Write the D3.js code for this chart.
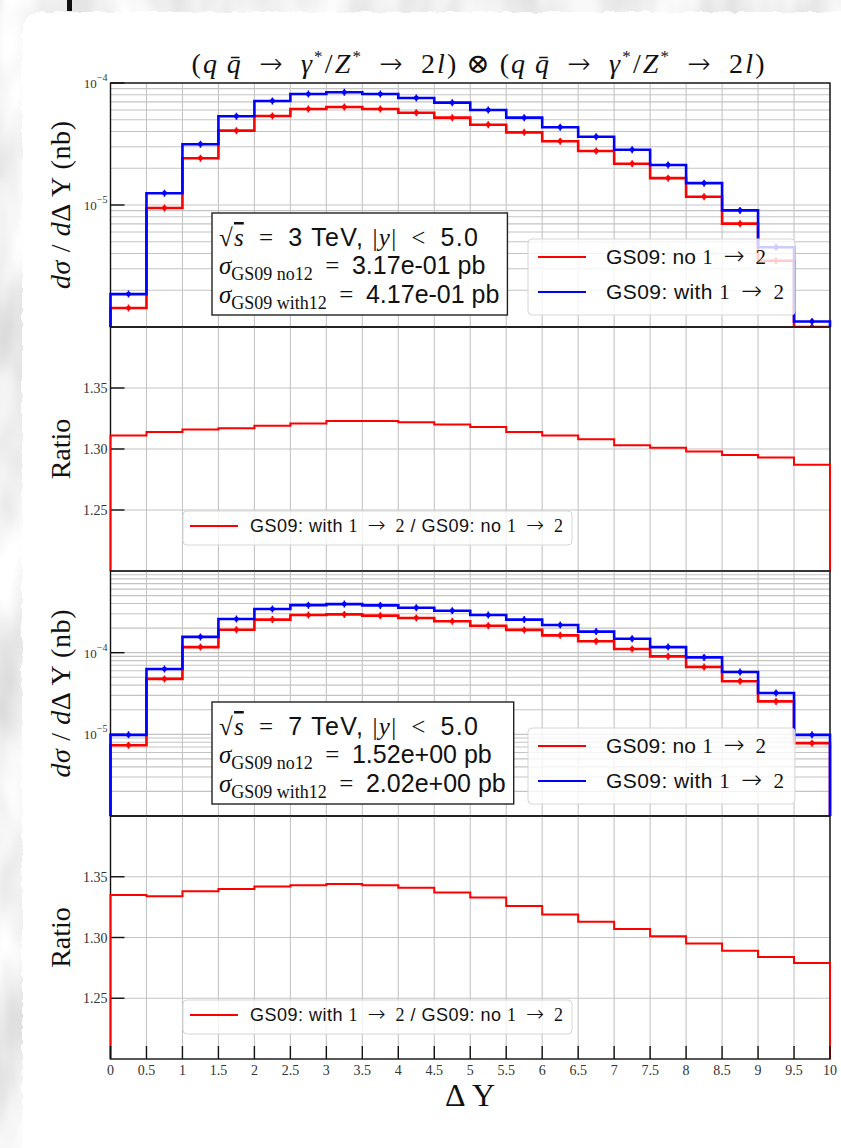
<!DOCTYPE html>
<html>
<head>
<meta charset="utf-8">
<script src="https://cdn.jsdelivr.net/npm/d3@7"></script>
<style>
  body { margin: 0; background: #d8d8d8; }
  svg { display: block; }
</style>
</head>
<body>
<svg id="chart" width="841" height="1148"></svg>
<script>
// bin edges in Delta Y and the bottom tick labels
const binEdges = [0, 0.5, 1, 1.5, 2, 2.5, 3, 3.5, 4, 4.5, 5, 5.5, 6, 6.5, 7, 7.5, 8, 8.5, 9, 9.5, 10];
const xTickLabels = ["0", "0.5", "1", "1.5", "2", "2.5", "3", "3.5", "4", "4.5", "5", "5.5", "6", "6.5", "7", "7.5", "8", "8.5", "9", "9.5", "10"];

// sqrt(s) = 3 TeV, d sigma / d DeltaY (nb)
const no12_3TeV = [1.43e-6, 9.45e-6, 2.42e-5, 4.07e-5, 5.37e-5, 6.12e-5, 6.36e-5, 6.12e-5, 5.71e-5, 5.20e-5,
                   4.55e-5, 3.94e-5, 3.33e-5, 2.77e-5, 2.18e-5, 1.66e-5, 1.17e-5, 7.03e-6, 3.49e-6, 8.6e-7];
const with12_3TeV = [1.86e-6, 1.25e-5, 3.15e-5, 5.34e-5, 7.12e-5, 8.12e-5, 8.39e-5, 8.12e-5, 7.54e-5, 6.90e-5,
                     6.01e-5, 5.20e-5, 4.34e-5, 3.63e-5, 2.84e-5, 2.13e-5, 1.51e-5, 9.03e-6, 4.50e-6, 1.11e-6];
const ratio_3TeV = [1.311, 1.314, 1.316, 1.317, 1.319, 1.321, 1.323, 1.323, 1.322, 1.320,
                    1.318, 1.314, 1.311, 1.308, 1.303, 1.301, 1.298, 1.295, 1.293, 1.287];

// sqrt(s) = 7 TeV
const no12_7TeV = [7.36e-6, 4.77e-5, 1.17e-4, 1.91e-4, 2.54e-4, 2.89e-4, 2.94e-4, 2.84e-4, 2.66e-4, 2.42e-4,
                   2.14e-4, 1.90e-4, 1.63e-4, 1.38e-4, 1.11e-4, 9.0e-5, 6.67e-5, 4.47e-5, 2.53e-5, 7.8e-6];
const with12_7TeV = [9.85e-6, 6.3e-5, 1.56e-4, 2.58e-4, 3.42e-4, 3.82e-4, 3.93e-4, 3.79e-4, 3.55e-4, 3.26e-4,
                     2.89e-4, 2.54e-4, 2.18e-4, 1.81e-4, 1.48e-4, 1.17e-4, 8.75e-5, 5.79e-5, 3.21e-5, 9.85e-6];
const ratio_7TeV = [1.335, 1.334, 1.338, 1.340, 1.342, 1.343, 1.344, 1.343, 1.341, 1.337,
                    1.333, 1.326, 1.319, 1.313, 1.307, 1.301, 1.295, 1.289, 1.284, 1.279];

const ratioTicks = [1.25, 1.30, 1.35];
const RED = "#ff0000", BLUE = "#0000ff";
const SERIF = "'Liberation Serif', 'DejaVu Serif', serif";
const SANS = "'Liberation Sans', 'DejaVu Sans', sans-serif";
const SYM = "'DejaVu Sans', sans-serif";
const SP = "\u2002";

const svg = d3.select("#chart");
const defs = svg.append("defs");

// background: grey concrete-ish texture and a white sheet with a torn edge
const grain = defs.append("filter").attr("id", "grain").attr("x", 0).attr("y", 0).attr("width", "100%").attr("height", "100%");
grain.append("feTurbulence").attr("type", "fractalNoise").attr("baseFrequency", "0.02 0.008").attr("numOctaves", 3).attr("seed", 11);
grain.append("feColorMatrix").attr("type", "matrix")
  .attr("values", "0.5 0 0 0 0.62  0.5 0 0 0 0.62  0.5 0 0 0 0.62  0 0 0 0 1");
svg.append("rect").attr("width", 841).attr("height", 1148).attr("filter", "url(#grain)");

const rough = defs.append("filter").attr("id", "rough").attr("x", "-3%").attr("y", "-3%").attr("width", "106%").attr("height", "106%");
rough.append("feTurbulence").attr("type", "fractalNoise").attr("baseFrequency", "0.12").attr("numOctaves", 2).attr("seed", 4).attr("result", "n");
rough.append("feDisplacementMap").attr("in", "SourceGraphic").attr("in2", "n").attr("scale", 5)
  .attr("xChannelSelector", "R").attr("yChannelSelector", "G");
svg.append("rect").attr("x", 22).attr("y", 12).attr("width", 860).attr("height", 1160).attr("rx", 20)
  .attr("fill", "#fff").attr("filter", "url(#rough)");
svg.append("rect").attr("x", 67).attr("y", 0).attr("width", 5).attr("height", 11).attr("fill", "#111");

const x = d3.scaleLinear().domain([0, 10]).range([110.5, 830]);
const [X0, X1] = x.range();

const panels = [
  { top: 83, bottom: 327, kind: "log", domain: [1e-6, 1e-4], labels: [1e-4, 1e-5], no12: no12_3TeV, with12: with12_3TeV,
    energy: "3", sNo: "3.17e-01", sWith: "4.17e-01" },
  { top: 327, bottom: 571, kind: "ratio", domain: [1.2, 1.4], ratio: ratio_3TeV },
  { top: 571, bottom: 816, kind: "log", domain: [1e-6, 1e-3], labels: [1e-4, 1e-5], no12: no12_7TeV, with12: with12_7TeV,
    energy: "7", sNo: "1.52e+00", sWith: "2.02e+00" },
  { top: 816, bottom: 1059, kind: "ratio", domain: [1.2, 1.4], ratio: ratio_7TeV }
];

function stepPoints(vals, base) {
  const pts = [[binEdges[0], base]];
  vals.forEach((v, i) => { pts.push([binEdges[i], v]); pts.push([binEdges[i + 1], v]); });
  pts.push([binEdges[binEdges.length - 1], base]);
  return pts;
}

// "1 -> 2" written as in the LaTeX legend
function arrowParts(t, size) {
  t.append("tspan").attr("font-family", SERIF).text("1" + SP);
  t.append("tspan").attr("font-family", SYM).attr("font-weight", 200).attr("font-size", size * 1.2).text("→");
  t.append("tspan").attr("font-family", SERIF).attr("font-weight", 400).attr("font-size", size).text(SP + "2");
}

function legendEntry(g, xl, yl, color, size, parts, len) {
  g.append("line").attr("x1", xl).attr("x2", xl + 48).attr("y1", yl).attr("y2", yl)
    .attr("stroke", color).attr("stroke-width", 2);
  const t = g.append("text").attr("x", xl + 68).attr("y", yl + 7).attr("font-size", size).attr("fill", "#111")
    .attr("textLength", len).attr("lengthAdjust", "spacing");
  parts.forEach(pt => {
    if (pt === "arrow") arrowParts(t, size);
    else t.append("tspan").attr("font-family", SANS).text(pt);
  });
  return t;
}

panels.forEach((p, pi) => {
  const g = svg.append("g");
  const y = (p.kind === "log" ? d3.scaleLog() : d3.scaleLinear()).domain(p.domain).range([p.bottom, p.top]).clamp(true);
  const clipId = "clip" + pi;
  defs.append("clipPath").attr("id", clipId).append("rect")
    .attr("x", X0 - 2).attr("y", p.top).attr("width", X1 - X0 + 4).attr("height", p.bottom - p.top);

  // grid
  const grid = g.append("g");
  grid.selectAll("line.gx").data(binEdges).join("line")
    .attr("x1", d => x(d)).attr("x2", d => x(d)).attr("y1", p.top).attr("y2", p.bottom)
    .attr("stroke", "#c4c4c4").attr("stroke-width", 1.1);
  const gyVals = p.kind === "log" ? y.ticks() : ratioTicks;
  grid.selectAll("line.gy").data(gyVals).join("line")
    .attr("x1", X0).attr("x2", X1).attr("y1", d => y(d)).attr("y2", d => y(d))
    .attr("stroke", "#c4c4c4").attr("stroke-width", 1.1);

  // frame
  g.append("rect").attr("x", X0).attr("y", p.top).attr("width", X1 - X0).attr("height", p.bottom - p.top)
    .attr("fill", "none").attr("stroke", "#111").attr("stroke-width", 1.4);

  // y ticks and labels
  const tickVals = p.kind === "log" ? p.labels : ratioTicks;
  g.selectAll("line.ty").data(tickVals).join("line")
    .attr("x1", X0).attr("x2", X0 + 14).attr("y1", d => y(d)).attr("y2", d => y(d))
    .attr("stroke", "#111").attr("stroke-width", 1.4);
  tickVals.forEach(v => {
    const t = g.append("text").attr("x", X0 - 3).attr("y", y(v) + 5).attr("text-anchor", "end")
      .attr("font-family", SERIF).attr("fill", "#333");
    if (p.kind === "log") {
      t.attr("font-size", 13);
      t.append("tspan").text("10");
      t.append("tspan").attr("dy", -7).attr("font-size", 10).text("\u2212" + Math.round(-Math.log10(v)));
    } else {
      t.attr("font-size", 14).text(d3.format(".2f")(v));
    }
  });

  // y label
  const yl = g.append("text").attr("transform", `translate(70,${(p.top + p.bottom) / 2}) rotate(-90)`)
    .attr("text-anchor", "middle").attr("font-family", SERIF).attr("font-size", 28).attr("fill", "#111");
  if (p.kind === "log") {
    yl.attr("textLength", 168).attr("lengthAdjust", "spacing");
    yl.append("tspan").attr("font-style", "italic").text("dσ");
    yl.append("tspan").text(" / ");
    yl.append("tspan").attr("font-style", "italic").text("d");
    yl.append("tspan").text("Δ Y (nb)");
  } else {
    yl.text("Ratio");
  }

  const lines = g.append("g").attr("clip-path", `url(#${clipId})`);
  const line = d3.line().x(d => x(d[0])).y(d => y(d[1]));
  const centers = d3.pairs(binEdges, (a, b) => (a + b) / 2);

  if (p.kind === "log") {
    [[p.no12, RED], [p.with12, BLUE]].forEach(([vals, color]) => {
      lines.append("path").datum(stepPoints(vals, p.domain[0])).attr("d", line)
        .attr("fill", "none").attr("stroke", color).attr("stroke-width", 2.6);
      lines.selectAll(null).data(vals).join("circle")
        .attr("cx", (d, i) => x(centers[i])).attr("cy", d => y(d)).attr("r", 2.4).attr("fill", color);
      lines.selectAll(null).data(vals).join("line")
        .attr("x1", (d, i) => x(centers[i])).attr("x2", (d, i) => x(centers[i]))
        .attr("y1", d => y(d) - 3.5).attr("y2", d => y(d) + 3.5).attr("stroke", color).attr("stroke-width", 1.5);
    });

    // info box
    const bottom = p.bottom - 12;
    const box = g.append("g");
    const rect = box.append("rect").attr("fill", "#fff").attr("stroke", "#222").attr("stroke-width", 1.4);
    const tx = 219, top = bottom - 102;
    const l1 = box.append("text").attr("x", tx).attr("y", top + 33).attr("font-size", 25).attr("fill", "#111")
      .attr("textLength", 259).attr("lengthAdjust", "spacing");
    l1.append("tspan").attr("font-family", SERIF).text("√");
    l1.append("tspan").attr("font-family", SERIF).attr("font-style", "italic").attr("text-decoration", "overline").text("s");
    l1.append("tspan").attr("font-family", SERIF).text(SP + "=" + SP);
    l1.append("tspan").attr("font-family", SANS).text(p.energy + " TeV, ");
    l1.append("tspan").attr("font-family", SERIF).text("|");
    l1.append("tspan").attr("font-family", SERIF).attr("font-style", "italic").text("y");
    l1.append("tspan").attr("font-family", SERIF).text("|" + SP + "<" + SP);
    l1.append("tspan").attr("font-family", SANS).text("5.0");
    [["GS09 no12", p.sNo, 61], ["GS09 with12", p.sWith, 90]].forEach(([sub, val, dy]) => {
      const t = box.append("text").attr("x", tx).attr("y", top + dy).attr("font-size", 25).attr("fill", "#111");
      t.append("tspan").attr("font-family", SERIF).attr("font-style", "italic").text("σ");
      t.append("tspan").attr("font-family", SERIF).attr("font-size", 18).attr("dy", 6).text(sub);
      t.append("tspan").attr("font-family", SERIF).attr("dy", -6).text(SP + "=" + SP);
      t.append("tspan").attr("font-family", SANS).text(val + " pb");
    });
    const bb = box.node().getBBox();
    rect.attr("x", 212).attr("y", top).attr("width", bb.x + bb.width - 212 + 8).attr("height", bottom - top);

    // legend
    const lg = g.append("g");
    const lrect = lg.append("rect").attr("x", 528).attr("y", bottom - 76).attr("height", 76).attr("rx", 4)
      .attr("fill", "#fff").attr("fill-opacity", 0.8).attr("stroke", "#d6d6d6");
    legendEntry(lg, 538, bottom - 58, RED, 21, ["GS09: no ", "arrow"], 160);
    legendEntry(lg, 538, bottom - 23, BLUE, 21, ["GS09: with ", "arrow"], 178);
    lrect.attr("width", 267);
  } else {
    lines.append("path").datum(stepPoints(p.ratio, p.domain[0])).attr("d", line)
      .attr("fill", "none").attr("stroke", RED).attr("stroke-width", 2);

    const lg = g.append("g");
    const lrect = lg.append("rect").attr("x", 183).attr("y", p.top + 184).attr("height", 34).attr("rx", 4)
      .attr("fill", "#fff").attr("fill-opacity", 0.8).attr("stroke", "#d6d6d6");
    const t = legendEntry(lg, 190, p.top + 199, RED, 18, ["GS09: with ", "arrow", " / GS09: no ", "arrow"], 313);
    t.attr("x", 250).attr("y", p.top + 205);
    lrect.attr("width", 389);
  }
});

// bottom x axis: inward ticks and labels
const bottomY = panels[panels.length - 1].bottom;
svg.append("g").selectAll("line").data(binEdges).join("line")
  .attr("x1", d => x(d)).attr("x2", d => x(d)).attr("y1", bottomY).attr("y2", bottomY - 13)
  .attr("stroke", "#111").attr("stroke-width", 1.4);
svg.append("g").selectAll("text").data(binEdges).join("text")
  .attr("x", d => x(d)).attr("y", bottomY + 16).attr("text-anchor", "middle")
  .attr("font-family", SERIF).attr("font-size", 14).attr("fill", "#333")
  .text((d, i) => xTickLabels[i]);
svg.append("text").attr("x", 470).attr("y", bottomY + 47).attr("text-anchor", "middle")
  .attr("font-family", SERIF).attr("font-size", 32).attr("fill", "#111").text("Δ\u2009Y");

// title
const title = svg.append("text").attr("x", 478).attr("y", 73).attr("text-anchor", "middle")
  .attr("font-family", SERIF).attr("font-size", 28).attr("fill", "#111")
  .attr("textLength", 573).attr("lengthAdjust", "spacing");
function arrow(t, dy) {
  t.append("tspan").attr("dy", dy).text(SP);
  t.append("tspan").attr("font-family", SYM).attr("font-weight", 200).attr("font-size", 28).text("→");
  t.append("tspan").attr("font-weight", 400).text(SP);
}
function proc(t) {
  t.append("tspan").text("(");
  t.append("tspan").attr("font-style", "italic").text("q\u2009q\u0304");
  arrow(t, 0);
  t.append("tspan").attr("font-style", "italic").text("γ");
  t.append("tspan").attr("font-size", 17).attr("dy", -11).text("*");
  t.append("tspan").attr("dy", 11).text("/");
  t.append("tspan").attr("font-style", "italic").text("Z");
  t.append("tspan").attr("font-size", 17).attr("dy", -11).text("*");
  arrow(t, 11);
  t.append("tspan").text("2");
  t.append("tspan").attr("font-style", "italic").text("l");
  t.append("tspan").text(")");
}
proc(title);
title.append("tspan").text("\u2009⊗\u2009");
proc(title);
</script>
</body>
</html>
